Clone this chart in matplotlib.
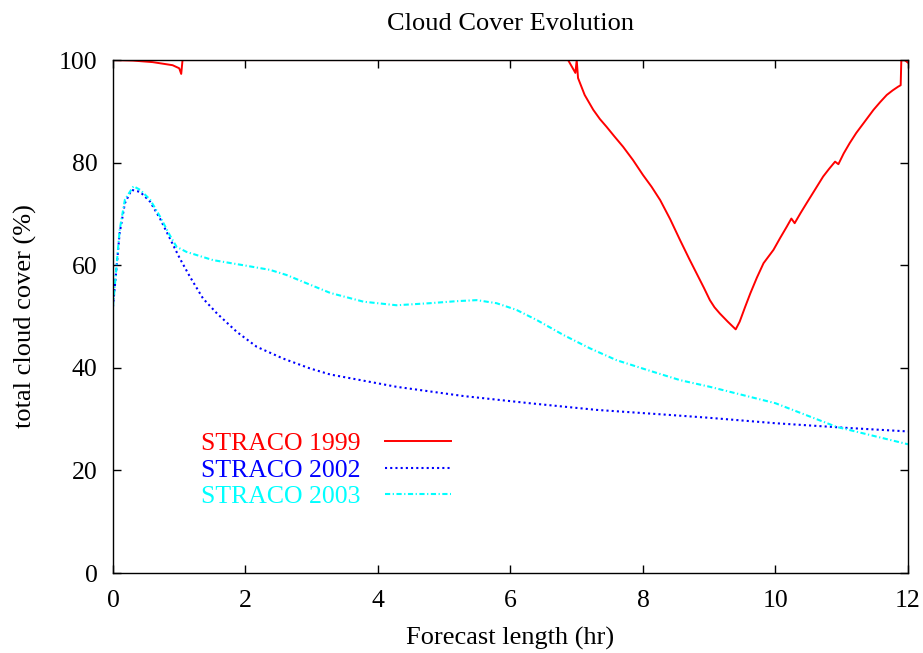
import numpy as np
import matplotlib
matplotlib.use("Agg")
import matplotlib.pyplot as plt

plt.rcParams['font.family'] = ['Liberation Serif', 'DejaVu Serif']

# STRACO 1999
x99 = [0.0, 0.3, 0.6, 0.9, 1.0, 1.03, 1.05, 2.0, 4.0, 6.0, 6.87, 6.98, 7.0, 7.02,
       7.12, 7.25, 7.35, 7.45, 7.57, 7.70, 7.85, 8.0, 8.13, 8.26, 8.41, 8.56,
       8.70, 8.81, 8.92, 9.01, 9.08, 9.16, 9.28, 9.40, 9.46, 9.54, 9.62,
       9.72, 9.82, 9.97, 10.07, 10.17, 10.24, 10.29, 10.38, 10.47, 10.60, 10.72,
       10.81, 10.90, 10.95, 11.03, 11.12, 11.22, 11.33, 11.48, 11.58, 11.68,
       11.77, 11.85, 11.89, 11.90, 11.95, 12.0]
y99 = [100, 99.9, 99.6, 99.0, 98.4, 97.3, 100, 100, 100, 100, 100, 97.5, 100, 96.5,
       93.2, 90.3, 88.5, 87.0, 85.1, 83.1, 80.5, 77.6, 75.3, 72.7, 69.0, 64.9,
       61.2, 58.4, 55.6, 53.2, 51.8, 50.6, 49.0, 47.5, 49.0, 51.8, 54.5,
       57.6, 60.4, 63.0, 65.3, 67.5, 69.1, 68.2, 70.2, 72.1, 74.8, 77.3,
       78.8, 80.2, 79.7, 81.8, 83.8, 85.8, 87.7, 90.3, 91.8, 93.2,
       94.1, 94.8, 95.1, 100, 100, 99.5]

# STRACO 2002
x02 = [0.0, 0.055, 0.1, 0.18, 0.28, 0.41, 0.56, 0.71, 0.86, 1.01, 1.16, 1.36,
       1.57, 1.87, 2.17, 2.57, 2.97, 3.28, 4.28, 5.29, 6.29, 7.30, 8.31, 8.96,
       10.0, 11.07, 12.0]
y02 = [51.9, 59.7, 66.2, 72.1, 74.7, 74.3, 72.4, 69.1, 65.2, 61.3, 57.8, 53.5,
       50.6, 47.0, 44.1, 41.8, 39.9, 38.7, 36.3, 34.5, 33.1, 31.8, 30.9, 30.3,
       29.2, 28.3, 27.6]

# STRACO 2003
x03 = [0.0, 0.055, 0.1, 0.18, 0.31, 0.41, 0.56, 0.71, 0.86, 0.96, 1.11, 1.51,
       1.97, 2.37, 2.62, 2.92, 3.28, 3.78, 4.28, 4.78, 5.19, 5.49, 5.79, 6.09,
       6.40, 6.80, 7.20, 7.60, 8.06, 8.56, 9.01, 10.0, 10.92, 12.0]
y03 = [51.9, 60.0, 66.8, 72.8, 75.4, 74.7, 72.8, 69.5, 65.8, 63.6, 62.6, 61.0,
       60.0, 59.1, 58.1, 56.5, 54.6, 52.9, 52.2, 52.6, 53.0, 53.2, 52.6, 51.3,
       49.3, 46.4, 43.8, 41.5, 39.6, 37.6, 36.3, 33.1, 28.5, 25.1]

xticks = [0, 2, 4, 6, 8, 10, 12]
yticks = [0, 20, 40, 60, 80, 100]

fig = plt.figure(figsize=(9.23, 6.53), dpi=100)
ax = fig.add_axes([0.1224, 0.1225, 0.8613, 0.7855])

ax.plot(x99, y99, color='#ff0000', lw=1.4, ls='-', label='STRACO 1999')
ax.plot(x02, y02, color='#0000ff', lw=1.5, ls=(0, (1, 1.5)), label='STRACO 2002')
ax.plot(x03, y03, color='#00ffff', lw=1.5, ls=(0, (2.5, 1.2, 0.6, 1.2)), label='STRACO 2003')

ax.set_xlim(0, 12)
ax.set_ylim(0, 100)
ax.set_xticks(xticks)
ax.set_yticks(yticks)
ax.tick_params(direction='in', length=6, width=1, top=True, right=True,
               labelsize=18.5)
ax.tick_params(axis='x', pad=12)
ax.tick_params(axis='y', pad=11)
for s in ax.spines.values():
    s.set_linewidth(1.0)

ax.set_title('Cloud Cover Evolution', fontsize=19, pad=22)
ax.set_xlabel('Forecast length (hr)', fontsize=19, labelpad=11)
ax.set_ylabel('total cloud cover (%)', fontsize=19, labelpad=16)

ax.legend(loc='upper right', bbox_to_anchor=(0.441, 0.30), frameon=False,
          markerfirst=False, labelcolor='linecolor', fontsize=18.5,
          handlelength=2.55, handletextpad=0.95, labelspacing=0.14, borderpad=0)

fig.savefig('out.png', dpi=100)
